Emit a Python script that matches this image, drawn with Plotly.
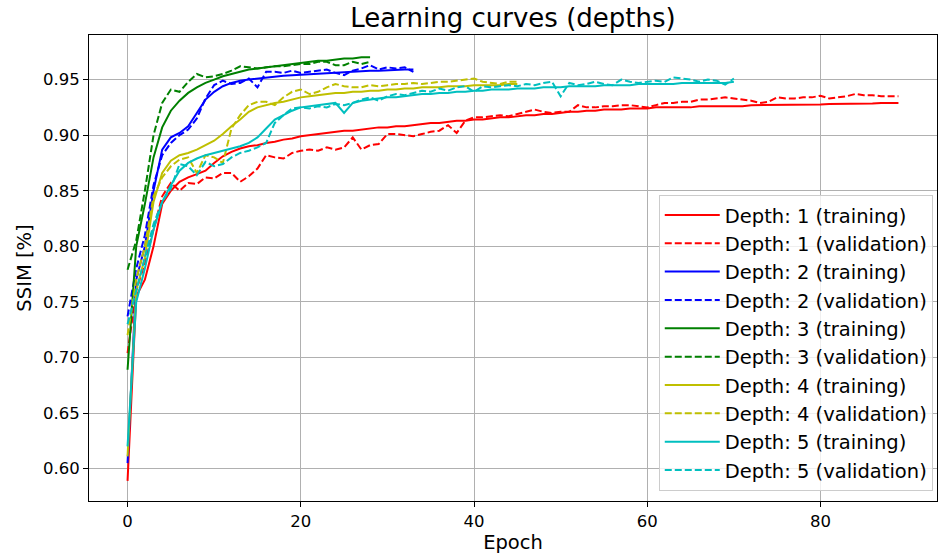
import plotly.graph_objects as go

depth1_train = [0.589, 0.755, 0.770, 0.800, 0.838, 0.850, 0.858, 0.862, 0.865, 0.868,
                0.875, 0.881, 0.885, 0.888, 0.890, 0.891, 0.893, 0.894, 0.896, 0.897,
                0.899, 0.900, 0.901, 0.902, 0.903, 0.904, 0.904, 0.905, 0.906, 0.907,
                0.907, 0.908, 0.908, 0.909, 0.910, 0.911, 0.911, 0.912, 0.913, 0.913,
                0.914, 0.914, 0.915, 0.916, 0.916, 0.917, 0.918, 0.918, 0.919, 0.919,
                0.920, 0.921, 0.921, 0.922, 0.922, 0.923, 0.923, 0.923, 0.924, 0.924,
                0.924, 0.925, 0.925, 0.925, 0.925, 0.925, 0.926, 0.926, 0.926, 0.926,
                0.926, 0.926, 0.927, 0.927, 0.927, 0.927, 0.927, 0.927, 0.9275, 0.9275,
                0.9275, 0.928, 0.928, 0.928, 0.928, 0.9285, 0.9285, 0.929, 0.929, 0.929]
depth1_val = [0.704, 0.760, 0.785, 0.815, 0.845, 0.857, 0.850, 0.857, 0.856, 0.862,
              0.861, 0.866, 0.866, 0.858, 0.863, 0.870, 0.882, 0.880, 0.879, 0.884,
              0.886, 0.887, 0.886, 0.889, 0.887, 0.889, 0.898, 0.887, 0.891, 0.892,
              0.901, 0.901, 0.900, 0.899, 0.901, 0.903, 0.904, 0.909, 0.902, 0.913,
              0.916, 0.916, 0.917, 0.918, 0.917, 0.919, 0.921, 0.923, 0.921, 0.920,
              0.921, 0.921, 0.927, 0.925, 0.925, 0.926, 0.926, 0.927, 0.927, 0.926,
              0.925, 0.927, 0.929, 0.929, 0.930, 0.930, 0.932, 0.932, 0.933, 0.934,
              0.933, 0.932, 0.931, 0.929, 0.930, 0.934, 0.933, 0.933, 0.934, 0.934,
              0.9355, 0.933, 0.934, 0.935, 0.937, 0.936, 0.936, 0.935, 0.935, 0.935]

depth2_train = [0.605, 0.770, 0.800, 0.850, 0.887, 0.898, 0.902, 0.908, 0.920, 0.932,
                0.939, 0.944, 0.947, 0.949, 0.950, 0.951, 0.952, 0.953, 0.9535, 0.954,
                0.9545, 0.955, 0.9555, 0.956, 0.9565, 0.957, 0.957, 0.9575, 0.958, 0.958,
                0.9585, 0.9585, 0.959, 0.959]
depth2_val = [0.737, 0.780, 0.810, 0.855, 0.882, 0.893, 0.900, 0.905, 0.915, 0.933,
              0.945, 0.949, 0.946, 0.947, 0.951, 0.943, 0.957, 0.957, 0.956, 0.958,
              0.956, 0.957, 0.958, 0.959, 0.956, 0.954, 0.958, 0.960, 0.963, 0.959,
              0.961, 0.960, 0.961, 0.957]

depth3_train = [0.689, 0.800, 0.838, 0.880, 0.907, 0.922, 0.931, 0.938, 0.943, 0.947,
                0.950, 0.953, 0.955, 0.957, 0.959, 0.960, 0.961, 0.962, 0.963, 0.964,
                0.965, 0.966, 0.967, 0.967, 0.968, 0.969, 0.969, 0.970, 0.970]
depth3_val = [0.779, 0.805, 0.850, 0.900, 0.929, 0.941, 0.939, 0.948, 0.955, 0.952,
              0.953, 0.955, 0.958, 0.962, 0.961, 0.960, 0.961, 0.962, 0.962, 0.963,
              0.964, 0.964, 0.966, 0.966, 0.963, 0.963, 0.966, 0.964, 0.966]

depth4_train = [0.611, 0.760, 0.790, 0.840, 0.866, 0.877, 0.882, 0.884, 0.887, 0.891,
                0.895, 0.901, 0.908, 0.914, 0.921, 0.925, 0.927, 0.929, 0.930, 0.932,
                0.934, 0.935, 0.936, 0.937, 0.938, 0.938, 0.939, 0.939, 0.940, 0.940,
                0.941, 0.941, 0.942, 0.942, 0.943, 0.943, 0.943, 0.944, 0.944, 0.944,
                0.945, 0.945, 0.945, 0.945, 0.946, 0.946]
depth4_val = [0.720, 0.770, 0.800, 0.845, 0.862, 0.872, 0.878, 0.880, 0.866, 0.882,
              0.880, 0.875, 0.906, 0.918, 0.927, 0.930, 0.930, 0.927, 0.934, 0.939,
              0.941, 0.937, 0.939, 0.943, 0.946, 0.944, 0.943, 0.943, 0.945, 0.944,
              0.945, 0.946, 0.946, 0.947, 0.946, 0.947, 0.948, 0.948, 0.949, 0.950,
              0.951, 0.948, 0.947, 0.946, 0.948, 0.948]

depth5_train = [0.620, 0.750, 0.780, 0.815, 0.840, 0.855, 0.868, 0.875, 0.879, 0.882,
                0.884, 0.886, 0.888, 0.890, 0.893, 0.898, 0.906, 0.914, 0.918, 0.922,
                0.925, 0.926, 0.927, 0.928, 0.929, 0.920, 0.929, 0.931, 0.932, 0.933,
                0.934, 0.934, 0.935, 0.936, 0.937, 0.937, 0.938, 0.938, 0.939, 0.939,
                0.940, 0.940, 0.941, 0.941, 0.941, 0.942, 0.942, 0.942, 0.943, 0.943,
                0.943, 0.944, 0.944, 0.944, 0.944, 0.945, 0.945, 0.945, 0.945, 0.946,
                0.946, 0.946, 0.946, 0.946, 0.947, 0.947, 0.947, 0.947, 0.947, 0.947,
                0.948]
depth5_val = [0.730, 0.760, 0.790, 0.820, 0.840, 0.852, 0.874, 0.872, 0.864, 0.876,
              0.872, 0.874, 0.880, 0.884, 0.886, 0.889, 0.893, 0.911, 0.918, 0.924,
              0.925, 0.924, 0.926, 0.925, 0.928, 0.927, 0.929, 0.932, 0.934, 0.931,
              0.935, 0.937, 0.936, 0.938, 0.940, 0.939, 0.942, 0.940, 0.943, 0.944,
              0.939, 0.944, 0.943, 0.944, 0.945, 0.944, 0.946, 0.945, 0.947, 0.948,
              0.935, 0.947, 0.945, 0.946, 0.948, 0.946, 0.945, 0.950, 0.948, 0.947,
              0.948, 0.949, 0.948, 0.952, 0.951, 0.950, 0.948, 0.950, 0.949, 0.9455,
              0.951]

depths = [1, 2, 3, 4, 5]
colors = ["#ff0000", "#0000ff", "#008000", "#bfbf00", "#00bfbf"]
series = [(depth1_train, depth1_val), (depth2_train, depth2_val),
          (depth3_train, depth3_val), (depth4_train, depth4_val),
          (depth5_train, depth5_val)]

x_ticks = [0, 20, 40, 60, 80]
y_ticks = [0.60, 0.65, 0.70, 0.75, 0.80, 0.85, 0.90, 0.95]

fig = go.Figure()
for d, c, (tr, va) in zip(depths, colors, series):
    fig.add_trace(go.Scatter(x=list(range(len(tr))), y=tr, mode="lines",
                             line=dict(color=c, width=2),
                             name=f"Depth: {d} (training)"))
    fig.add_trace(go.Scatter(x=list(range(len(va))), y=va, mode="lines",
                             line=dict(color=c, width=2, dash="7px,3px"),
                             name=f"Depth: {d} (validation)"))

font = "DejaVu Sans, sans-serif"
axis_common = dict(showline=True, linecolor="black", linewidth=1, mirror=True,
                   ticks="outside", ticklen=5, tickcolor="black",
                   showgrid=True, gridcolor="#b0b0b0", gridwidth=1,
                   zeroline=False, tickfont=dict(size=16.5, color="black", family=font))

fig.update_layout(
    width=938, height=555,
    margin=dict(l=89, r=1, t=35, b=54),
    paper_bgcolor="white", plot_bgcolor="white",
    font=dict(family=font, color="black"),
    title=dict(text="Learning curves (depths)", xref="paper", x=0.5, xanchor="center",
               y=0.968, yanchor="middle", font=dict(size=26, color="black", family=font)),
    xaxis=dict(range=[-4.45, 93.45], tickvals=x_ticks, ticktext=[str(t) for t in x_ticks],
               title=dict(text="Epoch", font=dict(size=19.5, color="black"), standoff=4),
               **axis_common),
    yaxis=dict(range=[0.5709, 0.9901], tickvals=y_ticks,
               ticktext=[f"{t:.2f}" for t in y_ticks],
               title=dict(text="SSIM [%]", font=dict(size=19.5, color="black"), standoff=6),
               **axis_common),
    legend=dict(x=0.995, y=0.022, xanchor="right", yanchor="bottom",
                bgcolor="rgba(255,255,255,0.8)", bordercolor="#cccccc", borderwidth=1,
                font=dict(size=19.5, color="black", family=font),
                tracegroupgap=0, itemwidth=55),
    showlegend=True,
)

fig.write_html("out.html")
